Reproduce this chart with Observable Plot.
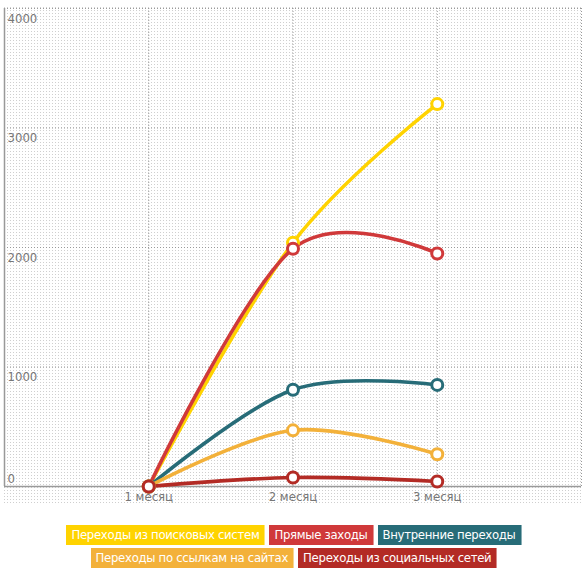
<!DOCTYPE html>
<html>
<head>
<meta charset="utf-8">
<script src="https://cdn.jsdelivr.net/npm/d3@7"></script>
<script src="https://cdn.jsdelivr.net/npm/@observablehq/plot@0.6"></script>
<style>
  html, body { margin: 0; padding: 0; background: #fff; }
  body { width: 588px; font-family: "Liberation Sans Narrow", "DejaVu Sans Condensed", "DejaVu Sans", sans-serif; font-stretch: condensed; }
  #legend { margin-top: 15px; display: flex; flex-direction: column; align-items: center; gap: 3px; }
  .row { display: flex; gap: 4px; }
  .item { height: 20px; line-height: 20px; padding: 0 5px; color: #fff; font-size: 13px; letter-spacing: -0.3px; white-space: nowrap; border-right: 1px solid rgba(255,255,255,0.45); }
</style>
</head>
<body>
<div id="chart"></div>
<div id="legend"></div>
<script>
const months = ["1 месяц", "2 месяц", "3 месяц"];
const monthPos = [1, 2, 3];
const seriesNames = [
  "Переходы из поисковых систем",
  "Прямые заходы",
  "Внутренние переходы",
  "Переходы по ссылкам на сайтах",
  "Переходы из социальных сетей"
];
const seriesColors = ["#FFD300", "#D0393A", "#276C78", "#F3B13A", "#B32B25"];
const searchValues = [0, 2040, 3200];
const directValues = [0, 1990, 1950];
const internalValues = [0, 810, 850];
const linksValues = [0, 470, 270];
const socialValues = [0, 75, 42];
const yTicks = [0, 1000, 2000, 3000, 4000];
const legendRows = [[0, 1, 2], [3, 4]];

const allValues = [searchValues, directValues, internalValues, linksValues, socialValues];
const rows = [];
allValues.forEach((vals, s) => vals.forEach((v, i) => rows.push({series: seriesNames[s], s, x: monthPos[i], y: v})));

const gridStyle = {stroke: "#999", strokeOpacity: 1, strokeWidth: 1, strokeDasharray: "1,2"};

const marks = [
  Plot.gridY([1000, 2000, 3000, 4000], gridStyle),
  Plot.gridX(monthPos, gridStyle),
  Plot.ruleX([4], gridStyle),
  Plot.ruleX([0], {stroke: "#999", strokeWidth: 1.5}),
  Plot.ruleY([0], {stroke: "#999", strokeWidth: 1.5}),
  Plot.axisX(monthPos, {tickSize: 0, tickPadding: 5, tickFormat: d => months[d - 1], fontSize: 13, fill: "#777", label: null}),
  Plot.text(yTicks.filter(d => d > 0), {x: 0, y: d => d, text: d => String(d), textAnchor: "start", dx: 3, dy: 10, fontSize: 13, fill: "#777"}),
  Plot.text(yTicks.filter(d => d === 0), {x: 0, y: d => d, text: d => String(d), textAnchor: "start", dx: 3, dy: -8, fontSize: 13, fill: "#777"})
];
seriesNames.forEach((name, s) => {
  const data = rows.filter(r => r.s === s);
  marks.push(Plot.line(data, {x: "x", y: "y", stroke: seriesColors[s], strokeWidth: 3.6, curve: "cardinal"}));
});
seriesNames.forEach((name, s) => {
  const data = rows.filter(r => r.s === s);
  marks.push(Plot.dot(data, {x: "x", y: "y", r: 5.5, fill: "#fff", stroke: seriesColors[s], strokeWidth: 3}));
});

const chart = Plot.plot({
  width: 588,
  height: 510,
  marginLeft: 4,
  marginRight: 7,
  marginTop: 8,
  marginBottom: 24,
  style: {fontFamily: "'Liberation Sans Narrow', 'DejaVu Sans Condensed', sans-serif", background: "transparent"},
  x: {domain: [0, 4], axis: null},
  y: {domain: [0, 4000], axis: null},
  marks
});

// dotted background texture
const svg = d3.select(chart);
const defs = svg.insert("defs", ":first-child");
const pat = defs.append("pattern").attr("id", "dots").attr("width", 3).attr("height", 3).attr("patternUnits", "userSpaceOnUse");
pat.append("rect").attr("x", 1).attr("y", 1).attr("width", 1).attr("height", 1).attr("fill", "#cfcfcf");
svg.insert("rect", "defs + *").attr("x", 2).attr("y", 7).attr("width", 579).attr("height", 498).attr("fill", "url(#dots)");

document.getElementById("chart").appendChild(chart);

const legend = document.getElementById("legend");
legendRows.forEach(r => {
  const row = document.createElement("div");
  row.className = "row";
  r.forEach(i => {
    const it = document.createElement("div");
    it.className = "item";
    it.style.background = seriesColors[i];
    it.textContent = seriesNames[i];
    row.appendChild(it);
  });
  legend.appendChild(row);
});
</script>
</body>
</html>
